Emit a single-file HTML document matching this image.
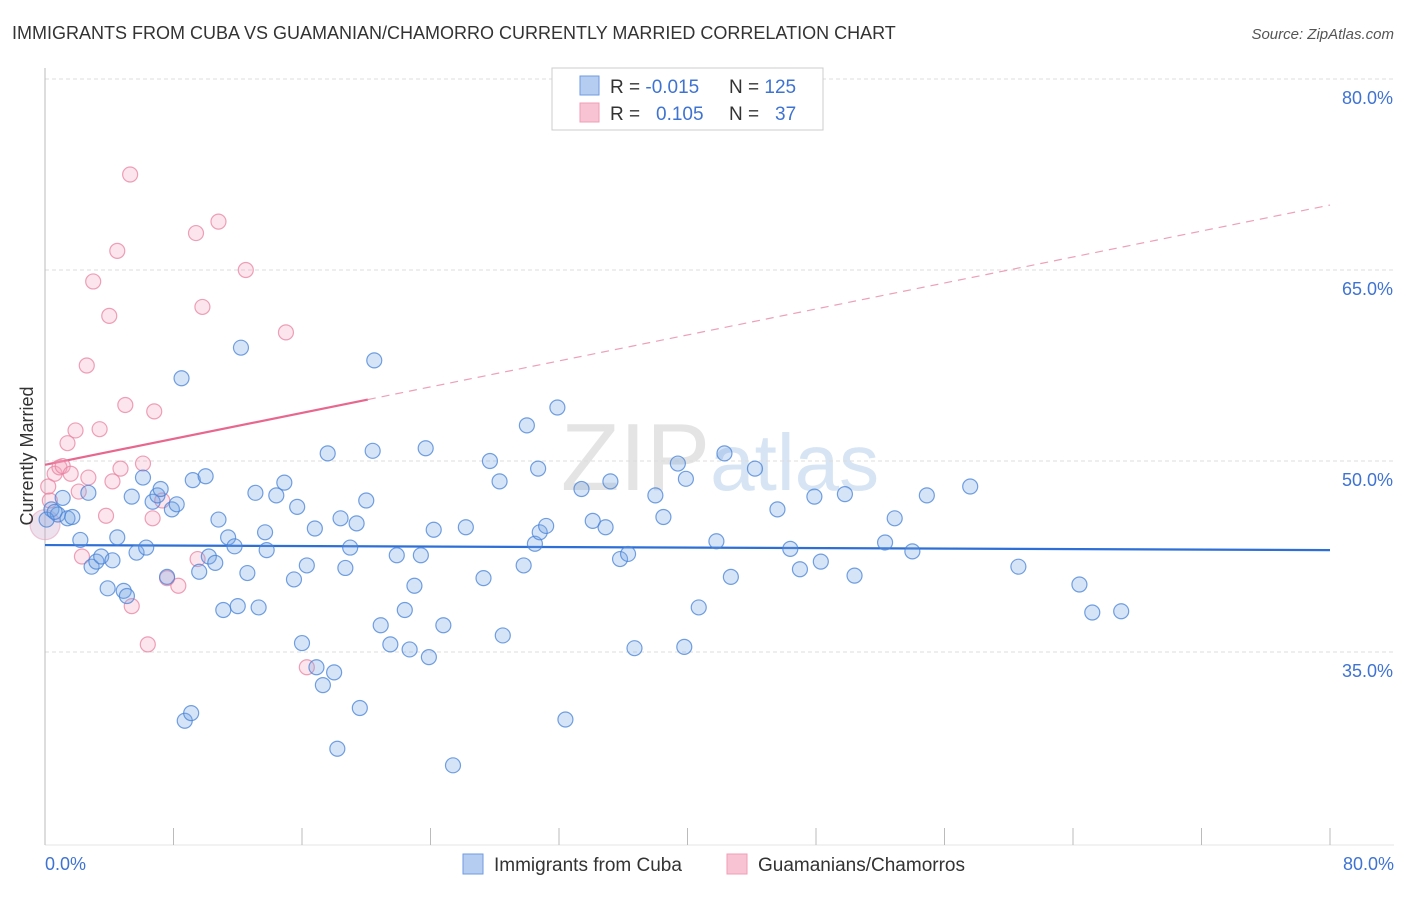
<!DOCTYPE html>
<html><head><meta charset="utf-8">
<style>
body{margin:0;background:#fff;font-family:"Liberation Sans",sans-serif;}
svg text{font-family:"Liberation Sans",sans-serif;}
</style></head>
<body>
<svg id="chart" width="1406" height="892" xmlns="http://www.w3.org/2000/svg">
<text x="12" y="39" font-size="18" fill="#333">IMMIGRANTS FROM CUBA VS GUAMANIAN/CHAMORRO CURRENTLY MARRIED CORRELATION CHART</text>
<text x="1394" y="39" font-size="15" fill="#555" font-style="italic" text-anchor="end">Source: ZipAtlas.com</text>
<text x="720" y="490" font-size="96" fill="#e4e4e4" text-anchor="middle" font-family="Liberation Serif">ZIP<tspan fill="#d6e4f4" font-family="Liberation Sans" font-size="80">atlas</tspan></text>
<g id="grid"></g>
<line x1="45" y1="68" x2="45" y2="845" stroke="#bbb"/>
<line x1="45" y1="845" x2="1394" y2="845" stroke="#e6e6e6"/>
<g id="xticks"></g>
<g id="trends"></g>
<g id="pts"></g>
<text transform="translate(33,456) rotate(-90)" font-size="18" fill="#333" text-anchor="middle">Currently Married</text>
<text x="45" y="870" font-size="18" fill="#3f73d1">0.0%</text>
<text x="1394" y="870" font-size="18" fill="#3f73d1" text-anchor="end">80.0%</text>
<g>
<rect x="552" y="68" width="271" height="62" fill="#fff" stroke="#ccc"/>
<rect x="580" y="76" width="19" height="19" fill="#b4cdf0" stroke="#6f9be0"/>
<rect x="580" y="103" width="19" height="19" fill="#f8c4d3" stroke="#ef9db6"/>
<text x="610" y="93" font-size="19" fill="#333">R = <tspan fill="#3f73d1">-0.015</tspan></text>
<text x="729" y="93" font-size="19" fill="#333">N = <tspan fill="#3f73d1">125</tspan></text>
<text x="610" y="120" font-size="19" fill="#333">R = <tspan fill="#3f73d1" x="656">0.105</tspan></text>
<text x="729" y="120" font-size="19" fill="#333">N = <tspan fill="#3f73d1" x="775">37</tspan></text>
</g>
<g>
<rect x="463" y="854" width="20" height="20" fill="#b4cdf0" stroke="#6f9be0"/>
<text x="494" y="871" font-size="19" fill="#333">Immigrants from Cuba</text>
<rect x="727" y="854" width="20" height="20" fill="#f8c4d3" stroke="#ef9db6"/>
<text x="758" y="871" font-size="19" fill="#333">Guamanians/Chamorros</text>
</g>
</svg>
<script>
const yTicks=[80,65,50,35];
const xTicks=[0,8,16,24,32,40,48,56,64,72,80];
const blueX=[0.4,0.8,1.1,1.4,1.7,2.2,2.7,2.9,3.2,3.5,3.9,4.2,4.5,4.9,5.1,5.4,5.7,6.3,6.1,6.7,7.0,7.2,7.6,7.9,8.2,8.5,8.7,9.1,9.2,9.6,10.0,10.2,10.6,10.8,11.1,11.4,11.8,12.0,12.2,12.6,13.1,13.3,13.7,13.8,14.4,14.9,15.5,15.7,16.0,16.3,16.8,16.9,17.3,17.6,18.0,18.2,18.4,18.7,19.0,19.4,19.6,20.0,20.4,20.5,20.9,21.5,21.9,22.4,22.7,23.0,23.4,23.7,23.9,24.2,24.8,25.4,26.2,27.3,27.7,28.3,28.5,29.8,30.0,30.5,30.7,30.8,31.2,31.9,32.4,33.4,34.1,34.9,35.2,35.8,36.3,36.7,38.0,38.5,39.4,39.9,39.8,40.7,41.8,42.3,42.7,44.2,45.6,46.4,47.0,47.9,48.3,49.8,50.4,52.3,52.9,54.0,54.9,57.6,60.6,64.4,65.2,67.0,0.1,0.6];
const blueY=[46.2,45.8,47.1,45.5,45.6,43.8,47.5,41.7,42.1,42.5,40.0,42.2,44.0,39.8,39.4,47.2,42.8,43.2,48.7,46.8,47.3,47.8,40.9,46.2,46.6,56.5,29.6,30.2,48.5,41.3,48.8,42.5,42.0,45.4,38.3,44.0,43.3,38.6,58.9,41.2,47.5,38.5,44.4,43.0,47.3,48.3,40.7,46.4,35.7,41.8,44.7,33.8,32.4,50.6,33.4,27.4,45.5,41.6,43.2,45.1,30.6,46.9,50.8,57.9,37.1,35.6,42.6,38.3,35.2,40.2,42.6,51.0,34.6,44.6,37.1,26.1,44.8,40.8,50.0,48.4,36.3,41.8,52.8,43.5,49.4,44.4,44.9,54.2,29.7,47.8,45.3,44.8,48.4,42.3,42.7,35.3,47.3,45.6,49.8,48.6,35.4,38.5,43.7,50.6,40.9,49.4,46.2,43.1,41.5,47.2,42.1,47.4,41.0,43.6,45.5,42.9,47.3,48.0,41.7,40.3,38.1,38.2,45.4,46.0];
const pinkX=[0.3,0.6,0.9,1.1,1.4,1.6,1.9,2.1,2.3,2.6,2.7,3.0,3.4,3.8,4.0,4.2,4.5,4.7,5.0,5.3,5.4,6.1,6.4,6.7,6.8,7.3,7.6,8.3,9.4,9.5,9.8,10.8,12.5,15.0,16.3,0.2];
const pinkY=[46.9,49.0,49.5,49.6,51.4,49.0,52.4,47.6,42.5,57.5,48.7,64.1,52.5,45.7,61.4,48.4,66.5,49.4,54.4,72.5,38.6,49.8,35.6,45.5,53.9,46.9,40.8,40.2,67.9,42.3,62.1,68.8,65.0,60.1,33.8,48.0];
const pinkBigX=[0.0], pinkBigY=[45.0];
const blueTrend=[43.4,43.0]; // value at x=0 and x=80
const pinkTrend=[49.7,70.1]; // value at x=0 and x=80
const pinkSolidEnd=20.1;

const NS="http://www.w3.org/2000/svg";
const xS=v=>45+v*(1285/80);
const yS=v=>79+(80-v)*(191/15);
function mk(tag,attrs,parent){const e=document.createElementNS(NS,tag);for(const k in attrs)e.setAttribute(k,attrs[k]);parent.appendChild(e);return e;}
const grid=document.getElementById('grid');
yTicks.forEach(t=>{
  const l=mk('line',{x1:45,x2:1394,y1:yS(t),y2:yS(t),stroke:'#ddd','stroke-dasharray':'4,3'},grid);
  
  
  const tx=mk('text',{x:1393,y:yS(t)+25,'font-size':18,fill:'#3f73d1','text-anchor':'end'},grid);
  tx.textContent=t.toFixed(1)+'%';
  
  
});
const xt=document.getElementById('xticks');
xTicks.forEach(t=>{
  const l=mk('line',{x1:xS(t),x2:xS(t),y1:828,y2:845,stroke:'#bbb'},xt);
  
  
});
const pts=document.getElementById('pts');
function dot(x,y,r,fill,stroke,name){
  const c=mk('circle',{cx:xS(x),cy:yS(y),r:r,fill:fill,stroke:stroke,'stroke-width':1.2},pts);
  
  
}
pinkBigX.forEach((x,i)=>dot(x,pinkBigY[i],15,'rgba(200,170,200,0.35)','rgba(230,150,180,0.5)','guam-point-large'));
pinkX.forEach((x,i)=>dot(x,pinkY[i],7.5,'rgba(244,160,188,0.28)','rgba(232,130,162,0.75)','guam-point'));
blueX.forEach((x,i)=>dot(x,blueY[i],7.5,'rgba(120,165,230,0.3)','rgba(70,130,215,0.75)','cuba-point'));
const tr=document.getElementById('trends');
const bl=mk('line',{x1:xS(0),y1:yS(blueTrend[0]),x2:xS(80),y2:yS(blueTrend[1]),stroke:'#2d6fd6','stroke-width':2.2},tr);


const pAt=x=>pinkTrend[0]+(pinkTrend[1]-pinkTrend[0])*x/80;
const ps=mk('line',{x1:xS(0),y1:yS(pAt(0)),x2:xS(pinkSolidEnd),y2:yS(pAt(pinkSolidEnd)),stroke:'#e8678f','stroke-width':2.2},tr);


const pd=mk('line',{x1:xS(pinkSolidEnd),y1:yS(pAt(pinkSolidEnd)),x2:xS(80),y2:yS(pAt(80)),stroke:'#eda0b8','stroke-width':1.2,'stroke-dasharray':'8,6'},tr);


</script>
</body></html>
